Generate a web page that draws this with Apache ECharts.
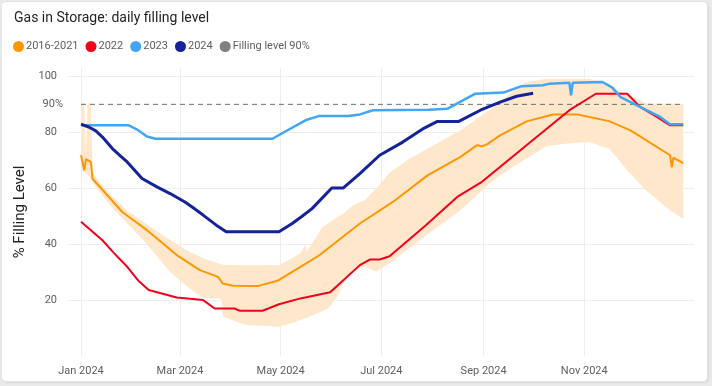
<!DOCTYPE html>
<html>
<head>
<meta charset="utf-8">
<script src="https://cdn.jsdelivr.net/npm/echarts@6/dist/echarts.min.js"></script>
<style>
html,body{margin:0;padding:0;width:712px;height:386px;background:#EAEAEA;overflow:hidden;}
#card{position:absolute;left:1px;top:1px;width:705px;height:379px;background:#fff;border:1px solid #E3E3E3;border-radius:5px;box-shadow:1px 1px 2px rgba(0,0,0,0.08);}
#chart{position:absolute;left:0;top:0;width:712px;height:386px;}
</style>
</head>
<body>
<div id="card"></div>
<div id="chart"></div>
<script>
// ---- data (dates are MM-DD in 2024, values in % filling level) ----
var xTickLabels = ['01-01','03-01','05-01','07-01','09-01','11-01'];
var yTickValues = [20, 40, 60, 80, 100];

var dates2024 = ['01-01','01-06','01-10','01-14','01-20','01-25','01-29','02-07','02-16','02-24','03-04','03-09','03-15','03-23','03-29','04-30','05-08','05-14','05-20','06-01','06-08','06-18','06-30','07-14','07-27','08-04','08-17','08-30','09-11','09-21','10-01'];
var values2024 = [82.9,81.8,80.5,78.3,74.2,71.5,69.4,63.5,60.5,58.1,55.1,53.0,50.4,46.8,44.4,44.4,47.4,50.0,52.7,60.1,60.1,65.2,71.8,76.5,81.5,83.9,83.9,87.9,90.8,92.9,94.0];

var dates2023 = ['01-01','01-30','02-04','02-10','02-15','04-26','05-06','05-16','05-24','06-11','06-18','06-26','07-30','08-10','08-27','09-13','09-24','10-07','10-11','10-23','10-24','10-25','10-26','11-12','11-18','11-23','12-03','12-17','12-23','12-31'];
var values2023 = [82.5,82.5,81.0,78.5,77.7,77.7,81.0,84.3,85.8,85.8,86.4,87.9,88.1,88.4,93.8,94.2,96.5,96.8,97.4,97.7,93.2,97.7,97.7,98.0,96.0,92.6,89.6,85.5,82.9,82.9];

var dates2022 = ['01-01','01-14','01-21','01-29','02-05','02-11','02-28','03-15','03-22','04-03','04-06','04-20','04-30','05-13','05-31','06-06','06-18','06-24','06-30','07-06','07-28','08-16','08-31','09-27','10-23','11-08','11-27','12-05','12-15','12-23','12-31'];
var values2022 = [48.0,41.4,36.8,31.9,26.8,23.6,20.9,20.0,17.0,17.0,16.2,16.2,18.5,20.6,22.8,26.0,32.5,34.5,34.5,35.7,46.8,56.9,62.3,75.4,87.9,93.8,93.8,89.0,85.5,82.5,82.5];

var datesAvg = ['01-01','01-03','01-04','01-07','01-08','01-26','02-10','02-28','03-13','03-24','03-27','04-02','04-17','04-29','05-13','05-23','05-25','06-18','07-08','07-29','08-18','08-28','08-31','09-03','09-11','09-27','10-13','10-28','11-16','11-29','12-23','12-24','12-25','12-31'];
var valuesAvg = [71.8,66.4,70.4,69.4,63.4,51.5,45.0,36.1,30.7,28.3,25.9,25.1,25.0,26.9,31.9,35.5,36.3,47.4,55.1,64.6,71.2,75.4,75.0,75.7,78.9,83.9,86.4,86.4,84.0,80.7,71.8,67.5,70.9,69.0];

var bandDates = ['01-01','01-03','01-04','01-05','01-07','01-08','01-13','01-20','01-29','02-10','02-24','03-06','03-15','03-26','03-27','04-10','04-30','05-08','05-13','05-16','05-17','05-24','05-26','05-30','06-04','06-08','06-14','06-21','06-28','07-06','07-18','07-30','08-18','09-07','09-17','09-27','10-09','10-22','11-04','11-16','11-20','11-27','12-08','12-11','12-23','12-31'];
var bandLower = [66.4,65.6,65.2,64.8,63.5,62.0,58.0,53.0,47.5,40.0,30.0,24.5,20.7,20.5,14.0,11.1,10.5,11.8,12.9,13.5,13.7,15.5,16.0,17.0,21.0,26.0,30.5,32.0,30.1,33.2,38.5,43.9,52.1,62.9,67.0,70.6,75.0,76.0,76.5,74.0,71.5,66.4,59.5,58.0,52.0,49.0];
var bandUpper = [90.4,90.4,71.0,90.4,90.4,65.5,61.5,57.0,52.0,47.0,41.5,37.5,35.0,32.8,32.6,32.5,32.5,35.0,36.8,39.6,37.5,43.9,46.0,47.5,49.5,51.0,54.0,55.7,60.0,65.5,70.5,74.5,80.7,89.0,94.0,98.0,99.2,99.2,99.2,97.5,95.5,93.8,90.4,90.2,90.2,90.2];

var target90Dates = ['01-01','12-31'];
var target90Values = [90, 90];

// ---- helpers ----
function ts(md){ var p = md.split('-'); return Date.UTC(2024, +p[0]-1, +p[1]); }
function pairs(d, v){ return d.map(function(x,i){ return [ts(x), v[i]]; }); }
var monthNames = ['Jan','Feb','Mar','Apr','May','Jun','Jul','Aug','Sep','Oct','Nov','Dec'];

var bandData = bandDates.map(function(x,i){ return [ts(x), bandLower[i], bandUpper[i]]; });

function renderBand(params, api){
  if (params.dataIndex !== 0) return null;
  var n = bandData.length, pts = [], i;
  for (i = 0; i < n; i++) pts.push(api.coord([bandData[i][0], bandData[i][2]]));
  for (i = n - 1; i >= 0; i--) pts.push(api.coord([bandData[i][0], bandData[i][1]]));
  return {type: 'polygon', shape: {points: pts}, style: {fill: '#FFE7CC'}, silent: true};
}

var FONT = 'Roboto';
var chart = echarts.init(document.getElementById('chart'), null, {renderer:'canvas'});
chart.setOption({
  backgroundColor: 'transparent',
  animation: false,
  textStyle: {fontFamily: FONT},
  title: {
    text: 'Gas in Storage: daily filling level',
    left: 9, top: 6,
    textStyle: {fontFamily: FONT, fontSize: 14, fontWeight: 'normal', color: '#252423'}
  },
  legend: {
    left: 8, top: 36,
    icon: 'circle', itemWidth: 11, itemHeight: 11, itemGap: 7,
    textStyle: {fontFamily: FONT, fontSize: 11, color: '#605E5C', padding: [0,0,0,-3]},
    data: ['2016-2021','2022','2023','2024','Filling level 90%']
  },
  grid: {left: 68, right: 18, top: 68, bottom: 30},
  xAxis: {
    type: 'value',
    min: Date.UTC(2023, 11, 24, 3),
    max: Date.UTC(2025, 0, 6, 12),
    axisLine: {show: false},
    axisTick: {show: false, customValues: xTickLabels.map(ts)},
    axisLabel: {
      customValues: xTickLabels.map(ts),
      color: '#605E5C', fontSize: 11, fontFamily: FONT, margin: 10,
      formatter: function(v){ var d = new Date(v); return monthNames[d.getUTCMonth()] + ' ' + d.getUTCFullYear(); }
    },
    splitLine: {show: true, lineStyle: {color: '#EEEEEE', width: 1}}
  },
  yAxis: {
    type: 'value', min: 0, max: 103,
    name: '% Filling Level', nameLocation: 'middle', nameGap: 36, nameRotate: 90,
    nameTextStyle: {fontFamily: FONT, fontSize: 15, color: '#252423'},
    axisLine: {show: false},
    axisTick: {show: false, customValues: yTickValues},
    axisLabel: {
      customValues: [20,40,60,80,90,100],
      color: '#605E5C', fontSize: 11, fontFamily: FONT, margin: 11,
      formatter: function(v){ return v === 90 ? '{p|90%}' : String(v); },
      rich: {p: {color: '#605E5C', fontSize: 11, fontFamily: FONT, padding: [0, -6, 0, 0]}}
    },
    splitLine: {show: true, lineStyle: {color: '#EEEEEE', width: 1}}
  },
  series: [
    {name: 'band', type: 'custom', data: bandData, renderItem: renderBand,
     encode: {x: 0, y: [1, 2]}, silent: true, z: 1},
    {name: 'Filling level 90%', type: 'line', data: pairs(target90Dates, target90Values), symbol: 'none',
     itemStyle: {color: '#808080'}, lineStyle: {color: '#6E6E6E', width: 1, type: [5,4]}, z: 2},
    {name: '2016-2021', type: 'line', data: pairs(datesAvg, valuesAvg), symbol: 'none',
     itemStyle: {color: '#FF9800'}, lineStyle: {color: '#FF9800', width: 2}, z: 3},
    {name: '2022', type: 'line', data: pairs(dates2022, values2022), symbol: 'none',
     itemStyle: {color: '#F2001D'}, lineStyle: {color: '#F2001D', width: 2}, z: 4},
    {name: '2023', type: 'line', data: pairs(dates2023, values2023), symbol: 'none',
     itemStyle: {color: '#42A5F5'}, lineStyle: {color: '#42A5F5', width: 2.5}, z: 5},
    {name: '2024', type: 'line', data: pairs(dates2024, values2024), symbol: 'none',
     itemStyle: {color: '#14239A'}, lineStyle: {color: '#14239A', width: 3}, z: 6}
  ]
});
</script>
</body>
</html>
